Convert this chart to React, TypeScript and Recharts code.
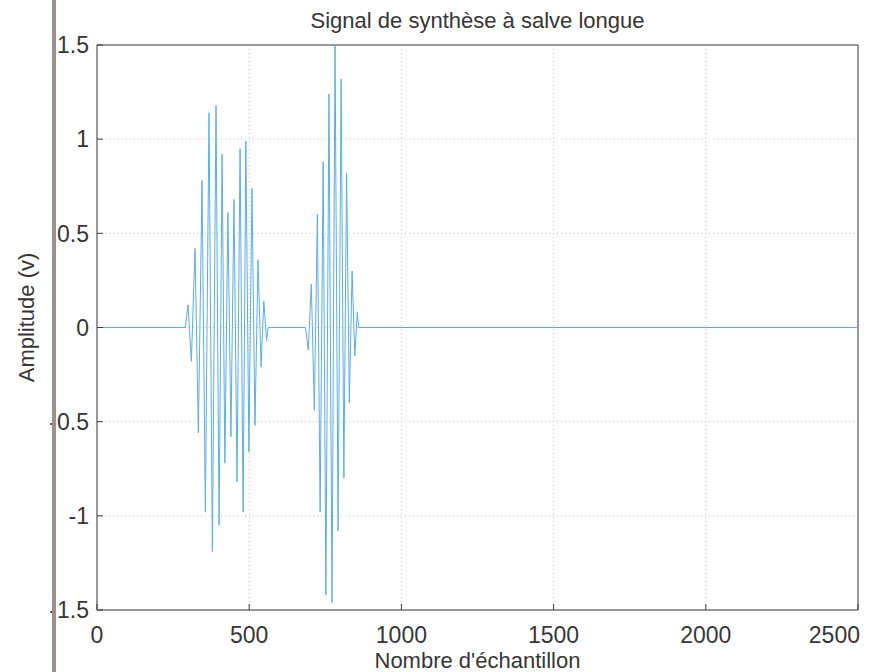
import React from "react";
import {
  LineChart,
  Line,
  XAxis,
  YAxis,
  CartesianGrid,
  ReferenceArea,
} from "recharts";

const TITLE = "Signal de synthèse à salve longue";
const X_LABEL = "Nombre d'échantillon";
const Y_LABEL = "Amplitude (v)";

const X_TICKS = [0, 500, 1000, 1500, 2000, 2500];
const Y_TICKS = [-1.5, -1, -0.5, 0, 0.5, 1, 1.5];

const START_SAMPLE = 0;
const END_SAMPLE = 2500;

// first burst: sample index of each extremum and its amplitude
const BURST1_SAMPLES = [290, 299, 310, 322, 333, 345, 356, 368, 379, 391, 401, 411, 420, 430, 440, 450, 460, 470, 480, 489, 499, 509, 519, 529, 539, 548, 557, 562];
const BURST1_VALUES = [0, 0.12, -0.18, 0.42, -0.56, 0.78, -0.98, 1.14, -1.19, 1.18, -1.05, 0.92, -0.72, 0.61, -0.58, 0.68, -0.82, 0.95, -0.98, 0.99, -0.66, 0.74, -0.52, 0.36, -0.21, 0.14, -0.07, 0];

// second burst
const BURST2_SAMPLES = [685, 694, 704, 714, 724, 733, 743, 752, 762, 772, 782, 792, 802, 811, 820, 829, 838, 847, 855, 860];
const BURST2_VALUES = [0, -0.12, 0.23, -0.44, 0.6, -0.98, 0.88, -1.42, 1.24, -1.46, 1.5, -1.08, 1.32, -0.8, 0.82, -0.4, 0.3, -0.15, 0.08, 0];

const data = [
  { n: START_SAMPLE, v: 0 },
  ...BURST1_SAMPLES.map((n, i) => ({ n, v: BURST1_VALUES[i] })),
  ...BURST2_SAMPLES.map((n, i) => ({ n, v: BURST2_VALUES[i] })),
  { n: END_SAMPLE, v: 0 },
];

const FONT = "'Liberation Sans', Arial, Helvetica, sans-serif";
const TEXT_COLOR = "#363636";
const AXIS_COLOR = "#3a3a3a";
const TICK_FS = 23;
const LABEL_FS = 22;

const fmt = (v: number) => String(v);

const XTick = (props: any) => {
  const { x, y, payload } = props;
  const axisY = y - 10;
  const isLast = payload.value === END_SAMPLE;
  return (
    <g>
      <line x1={x} x2={x} y1={axisY} y2={axisY - 6} stroke={AXIS_COLOR} strokeWidth={1} />
      <text
        x={isLast ? x + 2 : x}
        y={y}
        dy={TICK_FS}
        textAnchor={isLast ? "end" : "middle"}
        fill={TEXT_COLOR}
        fontSize={TICK_FS}
        fontFamily={FONT}
      >
        {fmt(payload.value)}
      </text>
    </g>
  );
};

const YTick = (props: any) => {
  const { x, y, payload } = props;
  const axisX = x + 8;
  return (
    <g>
      <line x1={axisX} x2={axisX + 6} y1={y} y2={y} stroke={AXIS_COLOR} strokeWidth={1} />
      <text
        x={x}
        y={y}
        dy={TICK_FS * 0.36}
        textAnchor="end"
        fill={TEXT_COLOR}
        fontSize={TICK_FS}
        fontFamily={FONT}
      >
        {fmt(payload.value)}
      </text>
    </g>
  );
};

const Empty = () => <g />;

const YLabel = (props: any) => {
  const { x, y, height } = props.viewBox;
  const cx = x + 26;
  const cy = y + height / 2 - 10;
  return (
    <text
      x={cx}
      y={cy}
      transform={`rotate(-90 ${cx} ${cy})`}
      textAnchor="middle"
      dominantBaseline="central"
      fill={TEXT_COLOR}
      fontSize={LABEL_FS}
      fontFamily={FONT}
    >
      {Y_LABEL}
    </text>
  );
};

export default function App() {
  return (
    <div
      style={{
        position: "absolute",
        left: 0,
        top: 0,
        width: 877,
        height: 672,
        background: "#ffffff",
        overflow: "hidden",
      }}
    >
      <LineChart
        width={877}
        height={672}
        data={data}
        margin={{ top: 45, right: 19, bottom: 0, left: 0 }}
      >
        <CartesianGrid
          stroke="#c4c4c4"
          strokeDasharray="1 3"
          horizontalValues={Y_TICKS}
          verticalValues={X_TICKS}
        />
        <XAxis
          dataKey="n"
          type="number"
          domain={[START_SAMPLE, END_SAMPLE]}
          ticks={X_TICKS}
          allowDataOverflow
          height={62}
          tickSize={0}
          tickMargin={10}
          axisLine={false}
          tickLine={false}
          tick={<XTick />}
          interval={0}
          label={{
            value: X_LABEL,
            position: "insideBottom",
            offset: 4,
            fill: TEXT_COLOR,
            fontSize: LABEL_FS,
            fontFamily: FONT,
          }}
        />
        <XAxis
          xAxisId="top"
          dataKey="n"
          type="number"
          orientation="top"
          domain={[START_SAMPLE, END_SAMPLE]}
          ticks={X_TICKS}
          allowDataOverflow
          height={0}
          mirror
          tickSize={6}
          axisLine={false}
          tickLine={{ stroke: AXIS_COLOR }}
          tick={<Empty />}
          interval={0}
        />
        <YAxis
          type="number"
          domain={[-1.5, 1.5]}
          ticks={Y_TICKS}
          allowDataOverflow
          width={97}
          tickSize={0}
          tickMargin={8}
          axisLine={false}
          tickLine={false}
          tick={<YTick />}
          interval={0}
          label={<YLabel />}
        />
        <YAxis
          yAxisId="right"
          type="number"
          orientation="right"
          domain={[-1.5, 1.5]}
          ticks={Y_TICKS}
          allowDataOverflow
          width={0}
          mirror
          tickSize={6}
          axisLine={false}
          tickLine={{ stroke: AXIS_COLOR }}
          tick={<Empty />}
          interval={0}
        />
        <ReferenceArea
          x1={START_SAMPLE}
          x2={END_SAMPLE}
          y1={-1.5}
          y2={1.5}
          fill="none"
          fillOpacity={0}
          stroke={AXIS_COLOR}
          strokeWidth={1}
          ifOverflow="visible"
          label={{
            value: TITLE,
            position: "top",
            offset: 17,
            fill: TEXT_COLOR,
            fontSize: LABEL_FS,
            fontFamily: FONT,
          }}
        />
        <Line
          type="linear"
          dataKey="v"
          stroke="#5aaee2"
          strokeWidth={1}
          dot={false}
          activeDot={false}
          isAnimationActive={false}
        />
      </LineChart>
      <div
        style={{
          position: "absolute",
          left: 52,
          top: 0,
          width: 4,
          height: 672,
          background: "#9c918c",
        }}
      />
    </div>
  );
}
